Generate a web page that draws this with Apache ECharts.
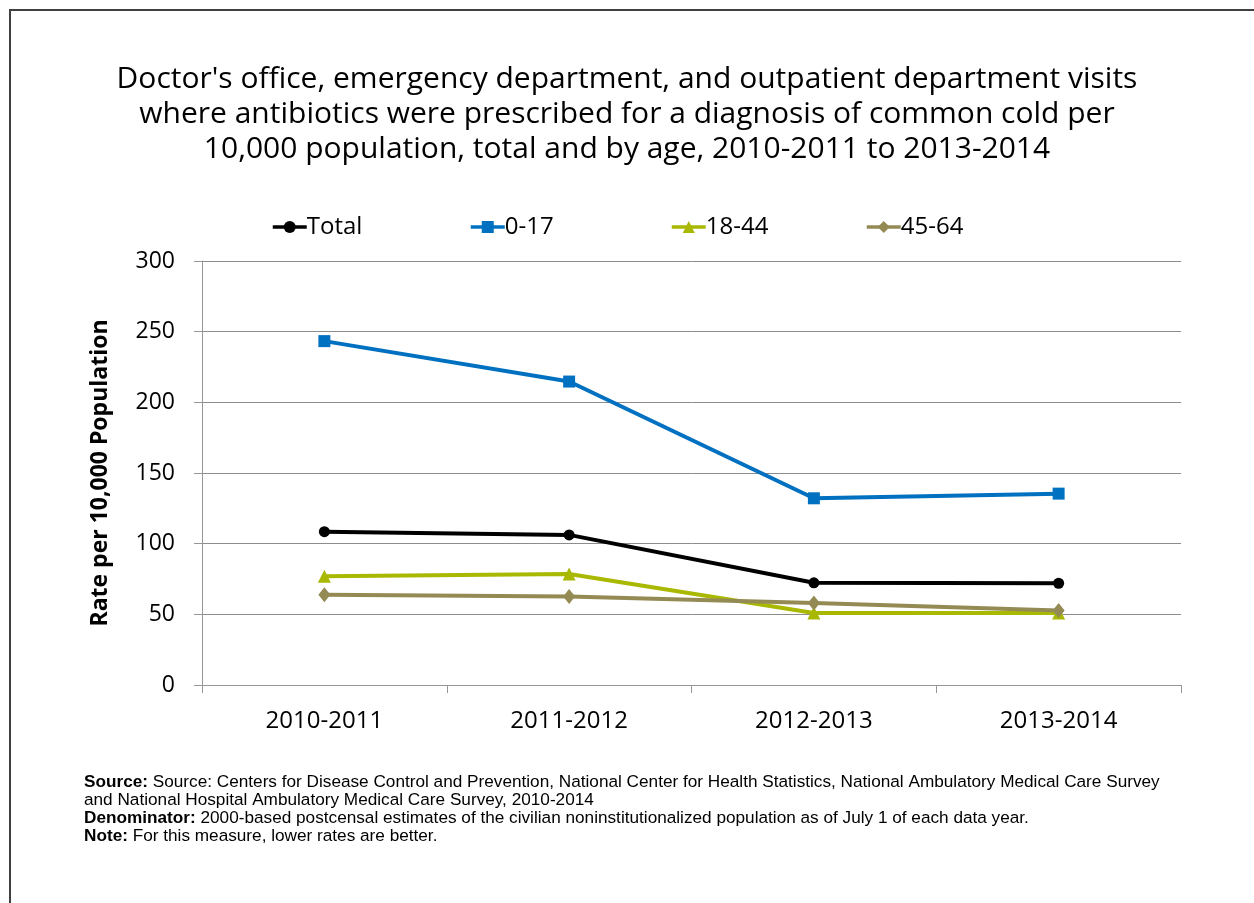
<!DOCTYPE html>
<html><head><meta charset="utf-8">
<script src="https://cdn.jsdelivr.net/npm/echarts@6/dist/echarts.min.js"></script>
<style>
html,body{margin:0;padding:0;background:#fff;}
#c{width:1254px;height:903px;}
#frame{position:absolute;left:9px;top:9px;width:1300px;height:1000px;border-left:2px solid #404040;border-top:2px solid #404040;pointer-events:none;}
</style></head>
<body>
<div id="c"></div>
<div id="frame"></div>
<script>
var categories = ['2010-2011', '2011-2012', '2012-2013', '2013-2014'];
var total = [108.5, 106.2, 72.3, 72.0];
var age0to17 = [243.3, 214.7, 132.1, 135.4];
var age18to44 = [76.9, 78.6, 51.0, 51.0];
var age45to64 = [63.9, 62.7, 58.0, 52.8];
var yTicks = [0, 50, 100, 150, 200, 250, 300];

var titleText = "Doctor's office, emergency department, and outpatient department visits\nwhere antibiotics were prescribed for a diagnosis of common cold per\n10,000 population, total and by age, 2010-2011 to 2013-2014";
var FONT = 'Open Sans';

var chart = echarts.init(document.getElementById('c'), null, {renderer: 'canvas'});

function legendAt(name, left) {
  return {
    data: [name], left: left, top: 215, itemWidth: 34, itemHeight: 15, itemGap: 0, padding: 0,
    textStyle: {fontFamily: FONT, fontSize: 24, color: '#000', padding: [0,0,0,-5]},
    lineStyle: {width: 3.5},
    selectedMode: false
  };
}

var seriesDefs = [
  {name: 'Total', data: total, color: '#000000', symbol: 'circle', size: 11},
  {name: '0-17', data: age0to17, color: '#0070C0', symbol: 'rect', size: 12},
  {name: '18-44', data: age18to44, color: '#A9B800', symbol: 'triangle', size: 13},
  {name: '45-64', data: age45to64, color: '#948A54', symbol: 'diamond', size: [12, 15]}
];

chart.setOption({
  animation: false,
  backgroundColor: '#fff',
  title: {
    text: titleText, left: 'center', top: 57,
    textStyle: {fontFamily: FONT, fontSize: 30, fontWeight: 'normal', color: '#000', lineHeight: 35}
  },
  legend: [legendAt('Total', 271), legendAt('0-17', 469), legendAt('18-44', 670), legendAt('45-64', 865)],
  grid: {left: 202, right: 73, top: 261, bottom: 218, containLabel: false},
  xAxis: {
    type: 'category', data: categories, boundaryGap: true,
    axisLine: {lineStyle: {color: '#969696', width: 1}},
    axisTick: {show: true, length: 8, lineStyle: {color: '#969696'}},
    axisLabel: {fontFamily: FONT, fontSize: 24, color: '#000', margin: 24}
  },
  yAxis: {
    type: 'value', min: 0, max: 300, interval: 50,
    name: 'Rate per 10,000 Population', nameLocation: 'middle', nameGap: 90,
    nameTextStyle: {fontFamily: FONT, fontSize: 23, fontWeight: 'bold', color: '#000'},
    axisLine: {show: true, lineStyle: {color: '#969696'}},
    axisTick: {show: true, length: 8, lineStyle: {color: '#969696'}},
    axisLabel: {fontFamily: FONT, fontSize: 23, color: '#000', margin: 27,
      formatter: function(v){ return yTicks.indexOf(v) >= 0 ? String(v) : ''; }},
    splitLine: {lineStyle: {color: '#8c8c8c', width: 1}}
  },
  series: seriesDefs.map(function(s){
    return {
      name: s.name, type: 'line', data: s.data,
      symbol: s.symbol, symbolSize: s.size, showSymbol: true,
      itemStyle: {color: s.color},
      lineStyle: {color: s.color, width: 4}
    };
  }),
  graphic: [{
    type: 'text', left: 84, top: 773,
    style: {
      text: '{b|Source:} Source: Centers for Disease Control and Prevention, National Center for Health Statistics, National Ambulatory Medical Care Survey\nand National Hospital Ambulatory Medical Care Survey, 2010-2014\n{b|Denominator:} 2000-based postcensal estimates of the civilian noninstitutionalized population as of July 1 of each data year.\n{b|Note:} For this measure, lower rates are better.',
      font: '17.2px "Liberation Sans"', fill: '#000', lineHeight: 18,
      rich: {b: {fontWeight: 'bold', fontFamily: 'Liberation Sans', fontSize: 17.2, lineHeight: 18}}
    }
  }]
});
</script>
</body></html>
